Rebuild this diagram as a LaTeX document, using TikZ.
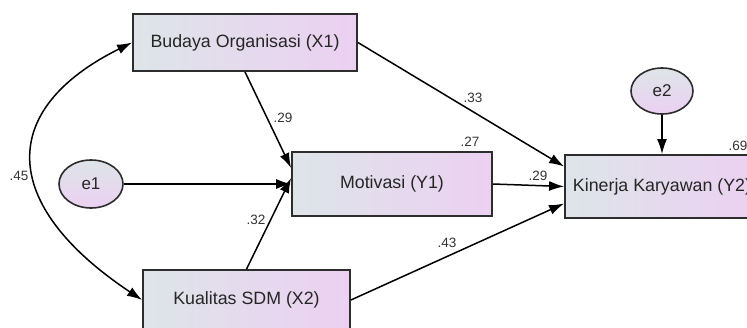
\documentclass[tikz,border=0pt]{standalone}
\usepackage{fontspec}
\setmainfont{Liberation Sans}
\usetikzlibrary{arrows.meta,shapes.geometric}
\definecolor{shadeL}{RGB}{221,229,232}
\definecolor{shadeR}{RGB}{236,208,242}
\definecolor{edgegray}{RGB}{45,45,45}
\begin{document}
\begin{tikzpicture}[x=1pt,y=-1pt,
  obs/.style={rectangle, draw=edgegray, line width=1.8pt,
    left color=shadeL, right color=shadeR, inner sep=0pt,
    text=black!85, font=\fontsize{17.8}{20}\selectfont},
  err/.style={ellipse, draw=edgegray, line width=1.6pt,
    top color=shadeL, bottom color=shadeR, inner sep=0pt,
    minimum width=64pt, minimum height=48pt,
    text=black!85, font=\fontsize{17}{20}\selectfont},
  regpath/.style={-{Latex[length=15pt,width=10pt]}, line width=1.5pt, black},
  covpath/.style={{Latex[length=15pt,width=10pt]}-{Latex[length=15pt,width=10pt]}, line width=1.5pt, black},
  coef/.style={text=black!80, inner sep=0pt, font=\fontsize{13.5}{15}\selectfont}]
\useasboundingbox (0,0) rectangle (747,327);
\clip (0,0) rectangle (747,327);

% observed variables
\node[obs, minimum width=224pt, minimum height=57pt] (bud) at (245,42.5) {Budaya Organisasi (X1)};
\node[obs, minimum width=200pt, minimum height=64pt] (mot) at (392,184) {Motivasi (Y1)};
\node[obs, minimum width=194pt, minimum height=63pt] (kin) at (662,186.5) {Kinerja Karyawan (Y2)};
\node[obs, minimum width=207pt, minimum height=60pt] (kua) at (246.5,300) {Kualitas SDM (X2)};

% error terms
\node[err] (e1) at (91,184) {e1};
\node[err, minimum width=62pt, minimum height=46pt] (e2) at (662,91) {e2};

% covariance between the exogenous variables
\draw[covpath] (bud.west) .. controls (-2,109) and (-2,204) .. (kua.west);

% regression paths
\draw[regpath] (bud.south) -- ([yshift=16pt]mot.west);
\draw[regpath] (bud.east) -- ([yshift=20pt]kin.west);
\draw[regpath] (e1.east) -- (mot.west);
\draw[regpath] (kua.north) -- ([yshift=6pt]mot.west);
\draw[regpath] (mot.east) -- (kin.west);
\draw[regpath] (kua.east) -- ([yshift=-17pt]kin.west);
\draw[regpath] (e2.south) -- (kin.north);

% coefficients
\node[coef] (c45) at (19,176) {.45};
\node[coef] (c29a) at (283,118) {.29};
\node[coef] (c33) at (473,98) {.33};
\node[coef] (c32) at (256,220) {.32};
\node[coef] (c29b) at (538,176) {.29};
\node[coef] (c43) at (447,243) {.43};
\node[coef] (c27) at (470,142) {.27};
\node[coef] (c69) at (738,146) {.69};
\end{tikzpicture}
\end{document}
